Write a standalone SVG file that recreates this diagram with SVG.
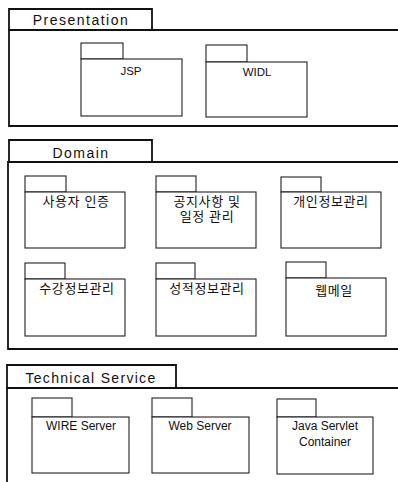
<svg xmlns="http://www.w3.org/2000/svg" width="398" height="482" viewBox="0 0 398 482">
<style>
.bg{fill:#fff}
.frame{fill:none;stroke:#111;stroke-width:1.8}
.pkg{fill:#fff;stroke:#222;stroke-width:1.1}
.ftitle{font-family:"Liberation Sans",Arial,sans-serif;font-size:14px;letter-spacing:1.5px;fill:#111;text-anchor:middle}
.lbl{font-family:"Liberation Sans",Arial,sans-serif;font-size:11.5px;fill:#111;text-anchor:middle}
.klbl{font-family:"Liberation Sans","Noto Sans CJK KR",sans-serif;font-size:13px;letter-spacing:0.6px;fill:#111;text-anchor:middle}
</style>
<rect class="bg" x="0" y="0" width="398" height="482"/>
<g id="presentation">
<path class="frame" d="M9,30 V9 H152 V30"/>
<path class="frame" d="M398,30 H9 V126 H398"/>
<text class="ftitle" x="81" y="25">Presentation</text>
</g>
<g id="jsp">
<rect class="pkg" x="81" y="43" width="42" height="16"/>
<rect class="pkg" x="81" y="59" width="101" height="57"/>
<text class="lbl" x="131" y="75">JSP</text>
</g>
<g id="widl">
<rect class="pkg" x="206" y="45" width="41" height="17"/>
<rect class="pkg" x="206" y="62" width="101" height="55"/>
<text class="lbl" x="257" y="76">WIDL</text>
</g>
<g id="domain">
<path class="frame" d="M9,162 V140 H152 V162"/>
<path class="frame" d="M398,162 H8 V349 H398"/>
<text class="ftitle" x="81" y="158">Domain</text>
</g>
<g id="auth">
<rect class="pkg" x="25" y="176" width="41" height="16"/>
<rect class="pkg" x="25" y="192" width="100" height="56"/>
<text class="klbl" x="76" y="206">사용자 인증</text>
</g>
<g id="notice">
<rect class="pkg" x="156" y="176" width="40" height="16"/>
<rect class="pkg" x="156" y="192" width="100" height="56"/>
<text class="klbl" x="207" y="206">공지사항 및</text>
<text class="klbl" x="207" y="221">일정 관리</text>
</g>
<g id="personal">
<rect class="pkg" x="281" y="177" width="40" height="15"/>
<rect class="pkg" x="281" y="192" width="100" height="56"/>
<text class="klbl" x="331" y="206">개인정보관리</text>
</g>
<g id="course">
<rect class="pkg" x="25" y="263" width="40" height="16"/>
<rect class="pkg" x="25" y="279" width="100" height="57"/>
<text class="klbl" x="77" y="293">수강정보관리</text>
</g>
<g id="grade">
<rect class="pkg" x="156" y="263" width="39" height="16"/>
<rect class="pkg" x="156" y="279" width="100" height="57"/>
<text class="klbl" x="207" y="293">성적정보관리</text>
</g>
<g id="webmail">
<rect class="pkg" x="286" y="262" width="40" height="16"/>
<rect class="pkg" x="286" y="278" width="100" height="58"/>
<text class="klbl" x="334" y="295">웹메일</text>
</g>
<g id="technical">
<path class="frame" d="M7,388 V365 H176 V388"/>
<path class="frame" d="M398,388 H7 V482"/>
<text class="ftitle" x="91" y="383" style="letter-spacing:1.3px">Technical Service</text>
</g>
<g id="wire">
<rect class="pkg" x="32" y="398" width="40" height="19"/>
<rect class="pkg" x="32" y="417" width="97" height="56"/>
<text class="lbl" x="81" y="430" style="font-size:12px">WIRE Server</text>
</g>
<g id="webserver">
<rect class="pkg" x="152" y="398" width="40" height="19"/>
<rect class="pkg" x="152" y="417" width="97" height="56"/>
<text class="lbl" x="200" y="430" style="font-size:12px">Web Server</text>
</g>
<g id="servlet">
<rect class="pkg" x="277" y="399" width="39" height="18"/>
<rect class="pkg" x="277" y="417" width="96" height="57"/>
<text class="lbl" x="325" y="430" style="font-size:12px">Java Servlet</text>
<text class="lbl" x="325" y="446" style="font-size:12px">Container</text>
</g>
<g id="connectors"/>
</svg>
